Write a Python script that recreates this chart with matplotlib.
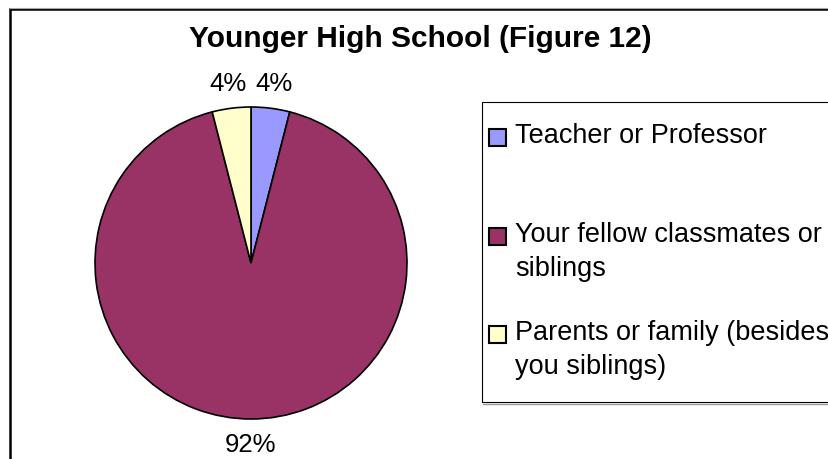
import numpy as np
import matplotlib.pyplot as plt
from matplotlib.patches import Rectangle
from matplotlib.lines import Line2D

plt.rcParams['font.family'] = ['Liberation Sans', 'DejaVu Sans']

title = "Younger High School (Figure 12)"
categories = ["Teacher or Professor",
              "Your fellow classmates or\nsiblings",
              "Parents or family (besides\nyou siblings)"]
shares = [4, 92, 4]
colors = ["#9999FF", "#993366", "#FFFFCC"]

W, H = 829, 460


def fx(px):
    return px / W


def fy(py):
    return 1 - py / H


fig = plt.figure(figsize=(W / 100, H / 100), dpi=100)

# chart area frame, cut off at the right and bottom like the source image
fig.add_artist(Rectangle((fx(10), fy(520)), 1.2, 510 / H, transform=fig.transFigure,
                         fill=False, ec="black", lw=1.8))
fig.add_artist(Line2D([fx(10), 1.1], [fy(8.5), fy(8.5)], transform=fig.transFigure,
                      color="#aaaaaa", lw=0.8))

fig.text(fx(420), fy(47), title, ha="center", va="baseline",
         fontsize=21.5, fontweight="bold")

# pie
ax = fig.add_axes([fx(95), fy(420), 312 / W, 312 / H])
wedges, _, pct = ax.pie(shares, colors=colors, startangle=90, counterclock=False,
                        autopct="%.0f%%", pctdistance=1.16,
                        wedgeprops=dict(edgecolor="black", linewidth=1.2),
                        textprops=dict(fontsize=18.5))
ax.set_xlim(-1, 1)
ax.set_ylim(-1, 1)
ax.axis("off")

# legend box (extends past the right edge)
fig.add_artist(Rectangle((fx(482), fy(403)), 1.0, 300 / H, transform=fig.transFigure,
                         fill=False, ec="black", lw=0.8))
fig.add_artist(Line2D([fx(483), 1.1], [fy(404.5), fy(404.5)], transform=fig.transFigure,
                      color="#999999", lw=1.0))

marker_mid = [138, 237, 335]
baselines = [143, 242, 340]
for cat, col, mc, bl in zip(categories, colors, marker_mid, baselines):
    fig.add_artist(Rectangle((fx(489), fy(mc + 8.5)), 17 / W, 17 / H,
                             transform=fig.transFigure, fc=col, ec="black", lw=1.5))
    for k, line in enumerate(cat.split("\n")):
        fig.text(fx(515), fy(bl + k * 34), line, ha="left", va="baseline",
                 fontsize=19.5)

fig.savefig("out.png", dpi=100)
